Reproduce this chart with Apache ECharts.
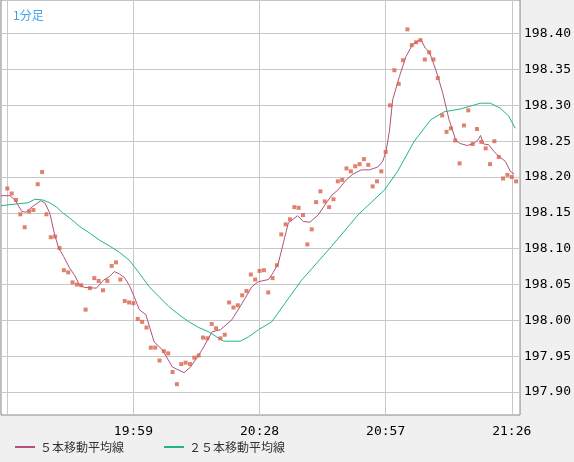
<!DOCTYPE html>
<html>
<head>
<meta charset="utf-8">
<script src="https://cdn.jsdelivr.net/npm/echarts@6/dist/echarts.min.js"></script>
<style>
  html, body { margin: 0; padding: 0; background: #f0f0f0; }
  #chart { width: 574px; height: 462px; }
</style>
</head>
<body>
<div id="chart"></div>
<script>
// 1分足 prices, one per minute starting 19:30
var startMinute = 19 * 60 + 30;
var prices = [
  198.184, 198.177, 198.168, 198.148, 198.130, 198.152, 198.154, 198.190, 198.207, 198.148,
  198.116, 198.117, 198.101, 198.070, 198.067, 198.053, 198.050, 198.049, 198.015, 198.045,
  198.059, 198.055, 198.042, 198.055, 198.076, 198.081, 198.057, 198.027, 198.025, 198.024,
  198.002, 197.998, 197.990, 197.962, 197.962, 197.944, 197.957, 197.954, 197.928, 197.911,
  197.939, 197.941, 197.939, 197.948, 197.951, 197.976, 197.975, 197.995, 197.989, 197.975,
  197.980, 198.025, 198.018, 198.021, 198.035, 198.041, 198.064, 198.057, 198.069, 198.070,
  198.039, 198.059, 198.077, 198.120, 198.134, 198.141, 198.158, 198.157, 198.147, 198.106,
  198.127, 198.165, 198.180, 198.166, 198.158, 198.169, 198.194, 198.196, 198.212, 198.208,
  198.215, 198.218, 198.225, 198.217, 198.187, 198.194, 198.208, 198.235, 198.300, 198.349,
  198.330, 198.363, 198.406, 198.384, 198.388, 198.391, 198.364, 198.374, 198.364, 198.338,
  198.286, 198.263, 198.268, 198.251, 198.219, 198.272, 198.293, 198.246, 198.267, 198.249,
  198.240, 198.218, 198.250, 198.228, 198.198, 198.203, 198.200, 198.194
];

// 5本移動平均線 as [minute index, price]
var ma5 = [
  [-1.45, 198.174], [0.6, 198.174], [1.76, 198.168], [3.36, 198.152], [4.27, 198.151],
  [5.87, 198.159], [7.70, 198.167], [8.62, 198.164], [9.76, 198.150], [10.90, 198.119],
  [11.82, 198.101], [12.96, 198.089], [14.33, 198.073], [15.47, 198.063], [16.62, 198.049],
  [17.76, 198.046], [20.50, 198.045], [22.10, 198.056], [23.47, 198.061], [24.61, 198.068],
  [25.76, 198.065], [26.90, 198.060], [28.04, 198.049], [29.19, 198.033], [30.33, 198.015],
  [31.86, 198.008], [33.76, 197.970], [35.66, 197.959], [37.95, 197.935], [40.62, 197.927],
  [42.15, 197.935], [44.80, 197.959], [47.09, 197.984], [49.01, 197.987], [51.66, 198.001],
  [54.72, 198.031], [56.23, 198.047], [57.76, 198.054], [60.05, 198.057], [60.96, 198.065],
  [62.33, 198.080], [63.47, 198.108], [64.62, 198.136], [66.74, 198.146], [68.05, 198.138],
  [69.58, 198.137], [71.47, 198.147], [73.37, 198.164], [74.67, 198.175], [76.04, 198.182],
  [77.94, 198.196], [79.47, 198.204], [81.37, 198.210], [83.29, 198.210], [85.19, 198.214],
  [86.33, 198.222], [87.09, 198.236], [87.86, 198.264], [88.62, 198.308], [90.15, 198.340],
  [91.66, 198.368], [93.19, 198.385], [95.09, 198.392], [96.09, 198.380], [97.01, 198.375],
  [98.51, 198.350], [100.05, 198.319], [101.58, 198.280], [103.09, 198.252], [104.0, 198.247],
  [105.76, 198.244], [107.29, 198.247], [108.27, 198.252], [108.80, 198.258], [109.58, 198.246],
  [110.72, 198.245], [111.86, 198.236], [113.0, 198.229], [114.51, 198.222], [115.66, 198.208],
  [116.57, 198.204]
];

// ２５本移動平均線
var ma25 = [
  [-1.45, 198.160], [2.90, 198.163], [4.73, 198.164], [6.33, 198.169], [8.16, 198.168],
  [9.76, 198.164], [11.36, 198.158], [12.73, 198.150], [14.33, 198.143], [16.62, 198.131],
  [18.90, 198.122], [21.19, 198.112], [23.47, 198.104], [25.76, 198.095], [28.04, 198.084],
  [30.33, 198.066], [32.62, 198.047], [34.90, 198.033], [37.19, 198.019], [39.47, 198.008],
  [41.76, 197.998], [44.04, 197.990], [46.33, 197.984], [48.62, 197.975], [49.76, 197.971],
  [53.58, 197.971], [55.47, 197.977], [57.76, 197.987], [60.80, 197.998], [63.86, 198.024],
  [67.66, 198.056], [74.51, 198.103], [80.62, 198.147], [86.72, 198.182], [89.76, 198.208],
  [93.58, 198.250], [97.38, 198.280], [100.44, 198.291], [104.23, 198.295], [108.80, 198.303],
  [111.09, 198.303], [113.37, 198.296], [115.29, 198.285], [116.80, 198.268]
];

var xGridTicks = [0, 29, 58, 87, 116];
var xLabelTicks = [29, 58, 87, 116];
var yTicks = [197.90, 197.95, 198.00, 198.05, 198.10, 198.15, 198.20, 198.25, 198.30, 198.35, 198.40];

function fmtTime(i) {
  var m = startMinute + i;
  var hh = Math.floor(m / 60), mm = m % 60;
  return hh + ':' + (mm < 10 ? '0' : '') + mm;
}

var myChart = echarts.init(document.getElementById('chart'));
var mono = '"DejaVu Sans Mono", monospace';
var jp = '"Noto Sans CJK JP", sans-serif';

option = {
  backgroundColor: '#f0f0f0',
  animation: false,
  title: {
    text: '1分足',
    left: 8, top: 4,
    textStyle: { color: '#3fa0ef', fontSize: 12, fontWeight: 'normal', fontFamily: jp }
  },
  legend: {
    left: 10, bottom: 4,
    itemWidth: 20, itemHeight: 2, itemGap: 40,
    textStyle: { color: '#333', fontSize: 12, fontFamily: jp },
    data: [
      { name: '５本移動平均線', icon: 'rect' },
      { name: '２５本移動平均線', icon: 'rect' }
    ]
  },
  grid: {
    left: 1, right: 51, top: 0, bottom: 47,
    show: true, backgroundColor: '#fff', borderColor: '#888', borderWidth: 1
  },
  xAxis: {
    type: 'value',
    min: -1.45, max: 117.9,
    axisLine: { show: false },
    axisTick: { show: true, length: 0, customValues: xGridTicks },
    axisLabel: {
      customValues: xLabelTicks,
      formatter: function (v) { return fmtTime(v); },
      color: '#000', fontSize: 13, fontFamily: mono, margin: 10
    },
    splitLine: { show: true, lineStyle: { color: '#c8c8c8', width: 1 } }
  },
  yAxis: {
    type: 'value',
    position: 'right',
    min: 197.868, max: 198.447,
    axisLine: { show: false },
    axisTick: { show: true, length: 0, customValues: yTicks },
    axisLabel: {
      customValues: yTicks,
      formatter: function (v) { return v.toFixed(2); },
      color: '#000', fontSize: 13, fontFamily: mono, margin: 4
    },
    splitLine: { show: true, lineStyle: { color: '#c8c8c8', width: 1 } }
  },
  series: [
    {
      name: '1分足',
      type: 'scatter',
      symbol: 'rect',
      symbolSize: 4,
      itemStyle: { color: '#d9634a' },
      data: prices.map(function (p, i) { return [i, p]; }),
      z: 3
    },
    {
      name: '５本移動平均線',
      type: 'line',
      showSymbol: false,
      itemStyle: { color: '#b0527e' },
      lineStyle: { color: '#b0527e', width: 1 },
      data: ma5,
      z: 2
    },
    {
      name: '２５本移動平均線',
      type: 'line',
      showSymbol: false,
      itemStyle: { color: '#25b386' },
      lineStyle: { color: '#25b386', width: 1 },
      data: ma25,
      z: 2
    }
  ]
};

myChart.setOption(option);
</script>
</body>
</html>
